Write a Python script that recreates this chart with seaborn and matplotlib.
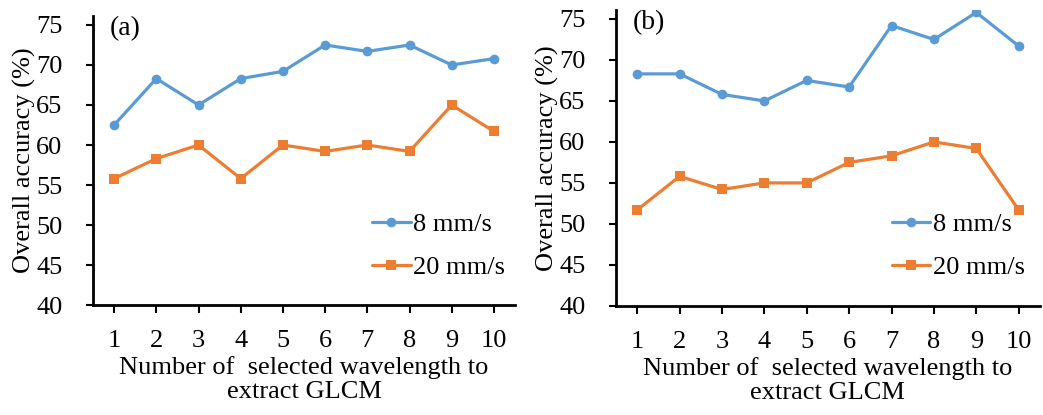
import pandas as pd
import matplotlib.pyplot as plt
import seaborn as sns

# -----------------------------
# Data
# -----------------------------
n_wavelength = [1, 2, 3, 4, 5, 6, 7, 8, 9, 10]

a_8mm = [62.5, 68.3, 65.0, 68.3, 69.2, 72.5, 71.7, 72.5, 70.0, 70.8]
a_20mm = [55.8, 58.3, 60.0, 55.8, 60.0, 59.2, 60.0, 59.2, 65.0, 61.7]

b_8mm = [68.3, 68.3, 65.8, 65.0, 67.5, 66.7, 74.2, 72.5, 75.8, 71.7]
b_20mm = [51.7, 55.8, 54.2, 55.0, 55.0, 57.5, 58.3, 60.0, 59.2, 51.7]

series_names = ["8 mm/s", "20 mm/s"]
y_ticks = [40, 45, 50, 55, 60, 65, 70, 75]

# -----------------------------
# Style
# -----------------------------
sns.set_style("ticks")
plt.rcParams["font.family"] = ["Liberation Serif", "DejaVu Serif"]
plt.rcParams["font.size"] = 19
plt.rcParams["text.color"] = "black"
plt.rcParams["axes.labelcolor"] = "black"
plt.rcParams["xtick.color"] = "black"
plt.rcParams["ytick.color"] = "black"

colors = {"8 mm/s": "#5B9BD5", "20 mm/s": "#ED7D31"}
markers = {"8 mm/s": "o", "20 mm/s": "s"}

fig = plt.figure(figsize=(10.43, 4.15), dpi=100)
ax_a = fig.add_axes([0.0892, 0.265, 0.4046, 0.696])
ax_b = fig.add_axes([0.5906, 0.263, 0.4064, 0.713])


def make_frame(v8, v20):
    df = pd.DataFrame({
        "n": n_wavelength * 2,
        "acc": v8 + v20,
        "speed": [series_names[0]] * len(v8) + [series_names[1]] * len(v20),
    })
    return df


def draw(ax, df, tag, leg_x):
    sns.lineplot(data=df, x="n", y="acc", hue="speed", style="speed",
                 palette=colors, markers=markers, dashes=False,
                 linewidth=2.3, markersize=7, markeredgewidth=0, ax=ax)
    ax.set_xlim(0.5, 10.5)
    ax.set_ylim(40, 76.1)
    ax.set_xticks(n_wavelength)
    ax.set_yticks(y_ticks)
    sns.despine(ax=ax)
    for s in ["left", "bottom"]:
        ax.spines[s].set_linewidth(2)
        ax.spines[s].set_color("black")
    ax.tick_params(axis="x", direction="out", length=6, width=1.5, pad=12, labelsize=19)
    ax.tick_params(axis="y", direction="out", length=5, width=1.5, pad=17, labelsize=19)
    ax.set_xlabel("Number of  selected wavelength to\nextract GLCM", fontsize=19, labelpad=3,
                  linespacing=1.12)
    ax.set_ylabel("Overall accuracy (%)", fontsize=19, labelpad=0)
    ax.text(0.04, 1.0, tag, transform=ax.transAxes, fontsize=20, va="top", ha="left")
    ax.legend(frameon=False, loc="upper left", bbox_to_anchor=(leg_x, 0.487),
              bbox_transform=fig.transFigure,
              handlelength=1.45, handletextpad=0.1, labelspacing=0.72, fontsize=19,
              borderaxespad=0, borderpad=0)


draw(ax_a, make_frame(a_8mm, a_20mm), "(a)", 0.357)
draw(ax_b, make_frame(b_8mm, b_20mm), "(b)", 0.855)

plt.savefig("out.png", dpi=100)
plt.close()
